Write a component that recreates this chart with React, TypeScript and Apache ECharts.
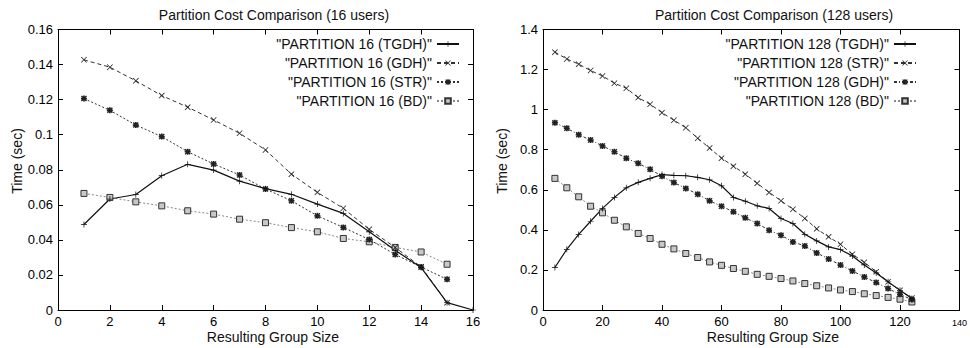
import React, { useEffect, useRef } from "react";
import * as echarts from "echarts";

// ---------- data: 16 users ----------
const X16 = [1, 2, 3, 4, 5, 6, 7, 8, 9, 10, 11, 12, 13, 14, 15, 16];
const TGDH16 = [0.0488, 0.0633, 0.0659, 0.0766, 0.0831, 0.0798, 0.0735, 0.0692, 0.066, 0.0604, 0.0551, 0.0446, 0.0341, 0.0242, 0.0042, 0.0];
const GDH16 = [0.1427, 0.1385, 0.1307, 0.1223, 0.1157, 0.1084, 0.1008, 0.0913, 0.0775, 0.0671, 0.058, 0.046, 0.0357, 0.0246, 0.0042];
const STR16 = [0.1206, 0.1139, 0.1055, 0.0989, 0.0903, 0.0833, 0.077, 0.069, 0.0623, 0.0537, 0.0471, 0.0402, 0.0317, 0.0245, 0.0175];
const BD16 = [0.0665, 0.0642, 0.0617, 0.0594, 0.0566, 0.0547, 0.0518, 0.0498, 0.047, 0.0446, 0.0408, 0.0389, 0.0357, 0.0331, 0.0261];

// ---------- data: 128 users ----------
const X128 = [4, 8, 12, 16, 20, 24, 28, 32, 36, 40, 44, 48, 52, 56, 60, 64, 68, 72, 76, 80, 84, 88, 92, 96, 100, 104, 108, 112, 116, 120, 124];
const TGDH128 = [0.212, 0.303, 0.377, 0.443, 0.507, 0.562, 0.61, 0.637, 0.657, 0.676, 0.672, 0.67, 0.662, 0.65, 0.62, 0.562, 0.543, 0.52, 0.507, 0.457, 0.432, 0.378, 0.345, 0.315, 0.301, 0.27, 0.225, 0.185, 0.141, 0.098, 0.057];
const STR128 = [1.287, 1.253, 1.227, 1.195, 1.168, 1.132, 1.107, 1.06, 1.027, 0.985, 0.947, 0.91, 0.857, 0.808, 0.758, 0.718, 0.678, 0.632, 0.587, 0.545, 0.503, 0.457, 0.405, 0.365, 0.328, 0.278, 0.238, 0.191, 0.141, 0.098, 0.06];
const GDH128 = [0.935, 0.907, 0.875, 0.848, 0.819, 0.79, 0.757, 0.732, 0.702, 0.668, 0.636, 0.607, 0.578, 0.545, 0.518, 0.49, 0.46, 0.432, 0.398, 0.373, 0.34, 0.32, 0.285, 0.255, 0.224, 0.195, 0.165, 0.137, 0.107, 0.078, 0.052];
const BD128 = [0.657, 0.61, 0.565, 0.518, 0.485, 0.448, 0.415, 0.382, 0.357, 0.328, 0.305, 0.282, 0.262, 0.24, 0.223, 0.207, 0.193, 0.178, 0.168, 0.157, 0.145, 0.132, 0.121, 0.11, 0.1, 0.092, 0.081, 0.072, 0.063, 0.054, 0.04];

const NAMES16 = ['"PARTITION 16 (TGDH)"', '"PARTITION 16 (GDH)"', '"PARTITION 16 (STR)"', '"PARTITION 16 (BD)"'];
const NAMES128 = ['"PARTITION 128 (TGDH)"', '"PARTITION 128 (STR)"', '"PARTITION 128 (GDH)"', '"PARTITION 128 (BD)"'];
const TITLES = ["Partition Cost Comparison (16 users)", "Partition Cost Comparison (128 users)"];
const X_NAME = "Resulting Group Size";
const Y_NAME = "Time (sec)";

const FONT = '"Liberation Sans", Arial, Helvetica, sans-serif';

const PLUS = "path://M4.4,0h1.2v4.4h4.4v1.2h-4.4v4.4h-1.2v-4.4h-4.4v-1.2h4.4z";
const CROSS = "path://M0,0.9L0.9,0L5,4.1L9.1,0L10,0.9L5.9,5L10,9.1L9.1,10L5,5.9L0.9,10L0,9.1L4.1,5Z";
const STAR = "path://M3.6,0h2.8v3.6h3.6v2.8h-3.6v3.6h-2.8v-3.6h-3.6v-2.8h3.6z M0,1.6L1.6,0L5,3.4L8.4,0L10,1.6L6.6,5L10,8.4L8.4,10L5,6.6L1.6,10L0,8.4L3.4,5Z";

const pairs = (xs: number[], ys: number[]) => ys.map((y, i) => [xs[i], y]);

function mkAxisX(grid: number, max: number, interval: number, top: boolean, small?: number) {
  return {
    type: "value",
    gridIndex: grid,
    position: top ? "top" : "bottom",
    min: 0,
    max,
    interval,
    axisLine: { show: true, onZero: false, lineStyle: { color: "#000", width: 1 } },
    axisTick: { show: true, inside: true, length: 5, lineStyle: { color: "#000", width: 1 } },
    splitLine: { show: false },
    axisLabel: top
      ? { show: false }
      : {
          show: true,
          color: "#000",
          fontSize: 13,
          fontFamily: FONT,
          margin: 5,
          formatter: (v: number) => (small !== undefined && v === small ? "{s|" + v + "}" : String(v)),
          rich: { s: { fontSize: 9, color: "#000", fontFamily: FONT, padding: [3, 0, 0, 0] } },
        },
  };
}

function mkAxisY(grid: number, max: number, interval: number, right: boolean) {
  return {
    type: "value",
    gridIndex: grid,
    position: right ? "right" : "left",
    min: 0,
    max,
    interval,
    axisLine: { show: true, onZero: false, lineStyle: { color: "#000", width: 1 } },
    axisTick: { show: true, inside: true, length: 5, lineStyle: { color: "#000", width: 1 } },
    splitLine: { show: false },
    axisLabel: right
      ? { show: false }
      : {
          show: true,
          color: "#000",
          fontSize: 13,
          fontFamily: FONT,
          margin: 5,
          formatter: (v: number) => String(+v.toFixed(2)),
        },
  };
}

function mkSeries(
  name: string,
  data: number[][],
  axis: number,
  symbol: string,
  size: number,
  dash: any,
  lineColor: string,
  width: number,
  fill: string,
  border: string,
  borderWidth: number
) {
  return {
    type: "line",
    name,
    data,
    xAxisIndex: axis,
    yAxisIndex: axis,
    symbol,
    symbolSize: size,
    showSymbol: true,
    lineStyle: { color: lineColor, width, type: dash },
    itemStyle: { color: fill, borderColor: border, borderWidth },
    emphasis: { disabled: true },
  };
}

export default function App() {
  const ref = useRef<HTMLDivElement>(null);

  useEffect(() => {
    if (!ref.current) return;
    const chart = echarts.init(ref.current, null, { renderer: "svg" });

    const legendBase = {
      orient: "vertical",
      align: "right",
      itemWidth: 22,
      itemHeight: 7,
      itemGap: 5,
      padding: 0,
      top: 37,
      textStyle: { fontSize: 14, color: "#111", fontFamily: FONT },
    };

    const titleStyle = { fontSize: 14, fontWeight: "normal", color: "#111", fontFamily: FONT };

    const option: any = {
      animation: false,
      backgroundColor: "#fff",
      title: [
        { text: TITLES[0], left: 274, top: 8, textAlign: "center", padding: 0, textStyle: titleStyle },
        { text: TITLES[1], left: 774, top: 8, textAlign: "center", padding: 0, textStyle: titleStyle },
      ],
      legend: [
        { ...legendBase, data: NAMES16, right: 510 },
        { ...legendBase, data: NAMES128, right: 53 },
      ],
      grid: [
        { left: 58, top: 29.5, width: 415, height: 280.5 },
        { left: 543, top: 29.5, width: 419, height: 280.5 },
      ],
      xAxis: [mkAxisX(0, 16, 2, false), mkAxisX(0, 16, 2, true), mkAxisX(1, 140, 20, false, 140), mkAxisX(1, 140, 20, true)],
      yAxis: [mkAxisY(0, 0.16, 0.02, false), mkAxisY(0, 0.16, 0.02, true), mkAxisY(1, 1.4, 0.2, false), mkAxisY(1, 1.4, 0.2, true)],
      graphic: [
        { type: "text", x: 273, y: 337, style: { text: X_NAME, align: "center", verticalAlign: "middle", fontSize: 14, fontFamily: FONT, fill: "#111" } },
        { type: "text", x: 773, y: 337, style: { text: X_NAME, align: "center", verticalAlign: "middle", fontSize: 14, fontFamily: FONT, fill: "#111" } },
        { type: "text", x: 17, y: 161, rotation: Math.PI / 2, style: { text: Y_NAME, align: "center", verticalAlign: "middle", fontSize: 14, fontFamily: FONT, fill: "#111" } },
        { type: "text", x: 502, y: 161, rotation: Math.PI / 2, style: { text: Y_NAME, align: "center", verticalAlign: "middle", fontSize: 14, fontFamily: FONT, fill: "#111" } },
      ],
      series: [
        mkSeries(NAMES16[3], pairs(X16, BD16), 0, "rect", 6, [2, 2], "#888", 1, "#c8c8c8", "#333", 1),
        mkSeries(NAMES16[2], pairs(X16, STR16), 0, STAR, 6, [2, 2], "#333", 1, "#222", "#222", 0),
        mkSeries(NAMES16[1], pairs(X16, GDH16), 0, CROSS, 6, [4, 3], "#333", 1, "#222", "#222", 0),
        mkSeries(NAMES16[0], pairs(X16, TGDH16), 0, PLUS, 6, "solid", "#111", 1.2, "#111", "#111", 0),
        mkSeries(NAMES128[3], pairs(X128, BD128), 2, "rect", 6, [2, 2], "#888", 1, "#c8c8c8", "#333", 1),
        mkSeries(NAMES128[2], pairs(X128, GDH128), 2, STAR, 6, [3, 2, 1, 2], "#333", 1, "#222", "#222", 0),
        mkSeries(NAMES128[1], pairs(X128, STR128), 2, CROSS, 6, [4, 3], "#333", 1, "#222", "#222", 0),
        mkSeries(NAMES128[0], pairs(X128, TGDH128), 2, PLUS, 6, "solid", "#111", 1.2, "#111", "#111", 0),
      ],
    };

    chart.setOption(option);
    return () => chart.dispose();
  }, []);

  return <div ref={ref} style={{ position: "fixed", left: 0, top: 0, width: 970, height: 348, background: "#fff" }} />;
}
